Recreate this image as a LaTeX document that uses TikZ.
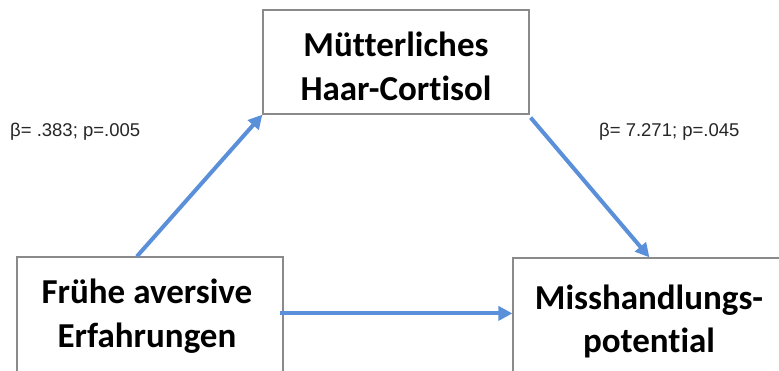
\documentclass[tikz,border=0pt]{standalone}
\usepackage{fontspec}
\setmainfont[Ligatures=NoCommon]{Carlito}
\newfontfamily\labelfont{Liberation Sans}
\usetikzlibrary{arrows.meta,calc}
\definecolor{arrowblue}{HTML}{5A8FDA}
\definecolor{boxgray}{HTML}{8A8A8A}
\tikzset{
  box/.style={draw=boxgray, line width=1.2pt, fill=white, rectangle, inner sep=0pt},
  boxtext/.style={font=\fontsize{35}{44}\selectfont\bfseries, inner sep=0pt, anchor=base},
  coef/.style={font=\labelfont\fontsize{18.5}{22}\selectfont, text=black!85, inner sep=0pt},
  path arrow/.style={draw=arrowblue, line width=4pt,
    -{Triangle[length=14pt,width=14pt]}}
}
\begin{document}
\begin{tikzpicture}[x=1pt,y=-1pt]
  \useasboundingbox (0,0) rectangle (779,370);
  \clip (0,0) rectangle (779,370);
  \fill[white] (0,0) rectangle (779,370);

  % boxes
  \node[box, minimum width=266pt, minimum height=104pt] (cortisol) at (396,62) {};
  \node[box, minimum width=266pt, minimum height=130pt] (source) at (150,322) {};
  \node[box, minimum width=272pt, minimum height=130pt] (target) at (649,323) {};

  % box texts
  \node[boxtext] (cortisol-a) at (396,56) {Mütterliches};
  \node[boxtext] (cortisol-b) at (396,100) {Haar-Cortisol};
  \node[boxtext] (source-a) at (147,303) {Frühe aversive};
  \node[boxtext] (source-b) at (147,347) {Erfahrungen};
  \node[boxtext] (target-a) at (649,309) {Misshandlungs-};
  \node[boxtext] (target-b) at (649,352) {potential};

  % coefficients
  \node[coef, anchor=west] (coef-a) at (10,132) {β= .383; p=.005};
  \node[coef, anchor=west] (coef-b) at (599,132) {β= 7.271; p=.045};

  % paths
  \draw[path arrow] ($(source.north west)!0.451!(source.north east)$) -- (cortisol.south west);
  \draw[path arrow] ($(cortisol.south east)+(1,3)$) -- ($(target.north west)+(137,0)$);
  \draw[path arrow] ($(source.north east)+(-4,57)$) -- ($(target.north west)+(0,56)$);
\end{tikzpicture}
\end{document}
